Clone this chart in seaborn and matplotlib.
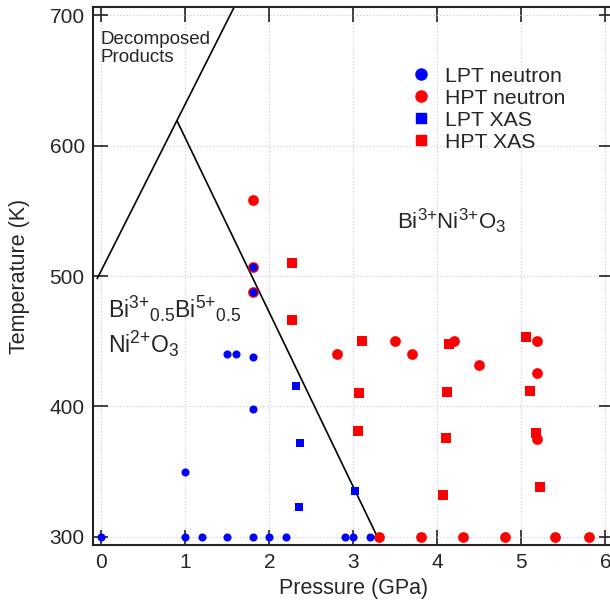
"""
BiNiO3 pressure-temperature phase diagram (neutron + XAS points).
"""

import matplotlib
matplotlib.use("Agg")
import matplotlib.pyplot as plt
from matplotlib import _mathtext
from matplotlib.lines import Line2D
import pandas as pd
import seaborn as sns

# --- data ---------------------------------------------------------------
LPT_NEUTRON_P = [0.0, 1.0, 1.2, 1.5, 1.8, 2.0, 2.2, 2.9, 3.0, 3.2,
                 1.0, 1.5, 1.6, 1.8, 1.8, 1.8, 1.8]
LPT_NEUTRON_T = [300, 300, 300, 300, 300, 300, 300, 300, 300, 300,
                 350, 440, 440, 438, 398, 507, 488]

HPT_NEUTRON_P = [1.8, 1.8, 1.8, 2.8, 3.5, 3.7, 4.2, 4.5, 5.18, 5.18, 5.18,
                 3.3, 3.8, 4.3, 4.8, 5.4, 5.8]
HPT_NEUTRON_T = [558, 507, 488, 440, 450, 440, 450, 432, 450, 426, 375,
                 300, 300, 300, 300, 300, 300]

LPT_XAS_P = [2.32, 2.36, 2.35, 3.02]
LPT_XAS_T = [416, 372, 323, 335]

HPT_XAS_P = [2.27, 2.27, 3.1, 3.07, 3.05, 4.14, 4.12, 4.1, 4.07,
             5.05, 5.1, 5.17, 5.22]
HPT_XAS_T = [510, 466, 450, 410, 381, 448, 411, 376, 332,
             453, 412, 380, 338]

# phase boundaries
DECOMP_P = [-0.05, 1.65]
DECOMP_T = [498, 715]
LPT_HPT_P = [0.9, 3.3]
LPT_HPT_T = [619, 298]

X_TICKS = [0, 1, 2, 3, 4, 5, 6]
Y_TICKS = [300, 400, 500, 600, 700]

BLUE = "#0000ff"
RED = "#ff0000"


def main():
    sns.set_style("ticks")
    plt.rcParams["font.family"] = ["Liberation Sans", "DejaVu Sans"]
    plt.rcParams["mathtext.fontset"] = "custom"
    plt.rcParams["mathtext.rm"] = "Liberation Sans"
    plt.rcParams["mathtext.it"] = "Liberation Sans:italic"
    plt.rcParams["mathtext.bf"] = "Liberation Sans:bold"
    # charges in the reference are a bit larger than mathtext's default 0.7
    _mathtext.SHRINK_FACTOR = 0.76

    fig = plt.figure(figsize=(6.10, 6.03), dpi=100)
    ax = fig.add_axes([0.15246, 0.09668, 0.85377, 0.89121])

    ax.plot(DECOMP_P, DECOMP_T, color="black", lw=1.2, zorder=2)
    ax.plot(LPT_HPT_P, LPT_HPT_T, color="black", lw=1.2, zorder=2)

    groups = [
        (HPT_NEUTRON_P, HPT_NEUTRON_T, "o", RED, 60),
        (LPT_NEUTRON_P, LPT_NEUTRON_T, "o", BLUE, 34),
        (HPT_XAS_P, HPT_XAS_T, "s", RED, 60),
        (LPT_XAS_P, LPT_XAS_T, "s", BLUE, 30),
    ]
    for p, t, marker, color, size in groups:
        df = pd.DataFrame({"P": p, "T": t})
        sns.scatterplot(data=df, x="P", y="T", ax=ax, marker=marker, color=color,
                        s=size, linewidth=0, zorder=3)

    ax.set_xlim(-0.1, 6.1)
    ax.set_ylim(294, 706)
    ax.set_xticks(X_TICKS)
    ax.set_yticks(Y_TICKS)
    ax.grid(True, color="#c4c4ec", linestyle=(0, (1, 2)), linewidth=0.8)
    ax.set_axisbelow(True)
    ax.tick_params(direction="in", length=11, width=1.2, top=True, right=True,
                   labelsize=15, pad=6, color="#222222")
    for side in ax.spines.values():
        side.set_linewidth(1.5)
        side.set_color("#222222")

    ax.set_xlabel("Pressure (GPa)", fontsize=15.5, labelpad=4)
    ax.set_ylabel("Temperature (K)", fontsize=15.5, labelpad=14)

    ax.text(-0.01, 688, "Decomposed\nProducts", fontsize=13.5, ha="left", va="top",
            linespacing=1.08)
    ax.text(0.08, 468, r"$\mathrm{Bi^{3{+}}{}_{0.5}Bi^{5{+}}{}_{0.5}}$", fontsize=16.6,
            ha="left", va="baseline")
    ax.text(0.08, 441, r"$\mathrm{Ni^{2{+}}O_3}$", fontsize=16.6, ha="left", va="baseline")
    ax.text(3.52, 536, r"$\mathrm{Bi^{3{+}}Ni^{3{+}}O_3}$", fontsize=16, ha="left",
            va="baseline")

    handles = [
        Line2D([], [], ls="", marker="o", color=BLUE, markersize=8, label="LPT neutron"),
        Line2D([], [], ls="", marker="o", color=RED, markersize=8, label="HPT neutron"),
        Line2D([], [], ls="", marker="s", color=BLUE, markersize=6.5, label="LPT XAS"),
        Line2D([], [], ls="", marker="s", color=RED, markersize=6.5, label="HPT XAS"),
    ]
    ax.legend(handles=handles, loc="upper left", bbox_to_anchor=(0.6730, 0.8890),
              bbox_transform=fig.transFigure, frameon=False, fontsize=15.3,
              borderpad=0, borderaxespad=0, handlelength=1.0, handletextpad=0.6,
              labelspacing=0.14)

    fig.savefig("out.png", dpi=100)
    plt.close(fig)


if __name__ == "__main__":
    main()
